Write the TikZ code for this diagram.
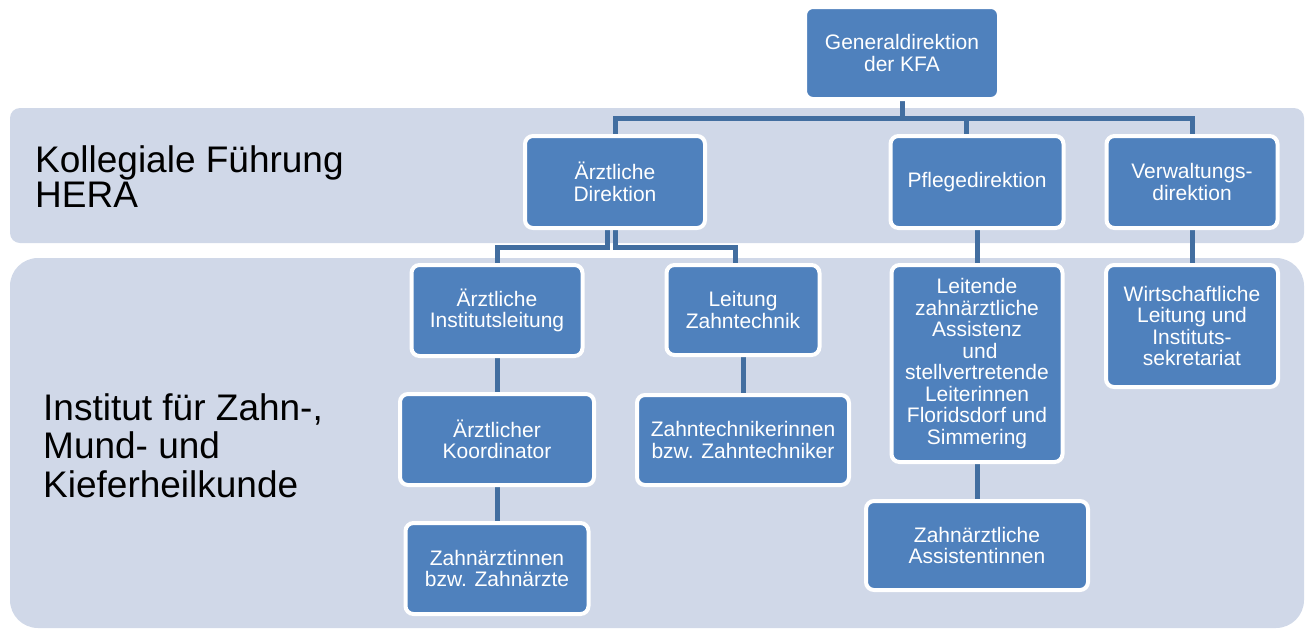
\documentclass[tikz,border=0pt]{standalone}
\usepackage{fontspec}
\setmainfont{Liberation Sans}
\usetikzlibrary{calc}
\pgfdeclarelayer{bands}
\pgfdeclarelayer{conns}
\pgfsetlayers{bands,conns,main}
\definecolor{bandfill}{RGB}{208,216,232}
\definecolor{boxfill}{RGB}{79,129,189}
\definecolor{connblue}{RGB}{66,110,160}
\tikzset{
  orgbox/.style={draw=white, line width=4pt, fill=boxfill, rounded corners=8pt,
    inner sep=0pt, align=center, text=white,
    font=\fontsize{21}{21.5}\selectfont},
  conn/.style={draw=connblue, line width=5pt},
  band/.style={fill=bandfill},
  biglabel/.style={anchor=base west, inner sep=0pt, align=left, text=black}
}
\begin{document}
\begin{tikzpicture}[x=1pt,y=-1pt]
\useasboundingbox (0,0) rectangle (1307,630);
% bands
\begin{pgfonlayer}{bands}
  \fill[band, rounded corners=10pt] (10,108) rectangle (1304,243);
  \fill[band, rounded corners=28pt] (10,258) rectangle (1304,628);
\end{pgfonlayer}
% labels (base anchor = baseline of last line)
\node[biglabel, font=\fontsize{37}{31}\selectfont] (lblhera) at (35,207) {Kollegiale Führung\\HERA};
\node[biglabel, font=\fontsize{37}{38.5}\selectfont] (lblinst) at (43,497) {Institut für Zahn-,\\Mund- und\\Kieferheilkunde};
% boxes
\node[orgbox, minimum width=194pt, minimum height=92pt] (gen) at (902,53) {Generaldirektion\\der KFA};
\node[orgbox, minimum width=180pt, minimum height=92pt] (ad) at (615,182) {Ärztliche\\Direktion};
\node[orgbox, minimum width=173pt, minimum height=92pt] (pd) at (977,182) {Pflegedirektion};
\node[orgbox, minimum width=171pt, minimum height=92pt] (vd) at (1192,182) {Verwaltungs-\\direktion};
\node[orgbox, minimum width=171pt, minimum height=91pt] (ail) at (497,310.5) {Ärztliche\\Institutsleitung};
\node[orgbox, minimum width=153pt, minimum height=90pt] (lz) at (743,310) {Leitung\\Zahntechnik};
\node[orgbox, minimum width=194pt, minimum height=91pt] (ak) at (497,439.5) {Ärztlicher\\Koordinator};
\node[orgbox, minimum width=212pt, minimum height=90pt] (zt) at (743,440) {Zahntechnikerinnen\\bzw. Zahntechniker};
\node[orgbox, minimum width=183pt, minimum height=91pt] (za) at (497,568.5) {Zahnärztinnen\\bzw. Zahnärzte};
\node[orgbox, minimum width=171pt, minimum height=197pt] (le) at (977,363.5) {Leitende\\zahnärztliche\\Assistenz\\\hspace*{6pt}und\\stellvertretende\\Leiterinnen\\Floridsdorf und\\Simmering};
\node[orgbox, minimum width=222pt, minimum height=89pt] (zass) at (977,545.5) {Zahnärztliche\\Assistentinnen};
\node[orgbox, minimum width=172pt, minimum height=122pt] (wl) at (1192,326) {Wirtschaftliche\\Leitung und\\Instituts-\\sekretariat};
% bus coordinates
\coordinate (busA) at (0,118);
\coordinate (busB) at (0,247.5);
% connectors
\begin{pgfonlayer}{conns}
  \draw[conn] (gen.south) -- (gen.south |- busA) -| (ad.north);
  \draw[conn] (gen.south |- busA) -| ($(pd.north)+(-11,0)$);
  \draw[conn] (gen.south |- busA) -| (vd.north);
  \draw[conn] ($(ad.south)+(-8,0)$) |- (ail.north |- busB) -- (ail.north);
  \draw[conn] (ad.south) |- ($(lz.north |- busB)+(-8,0)$) -- ($(lz.north)+(-8,0)$);
  \draw[conn] (ail.south) -- (ak.north);
  \draw[conn] (ak.south) -- (za.north);
  \draw[conn] (lz.south) -- (zt.north);
  \draw[conn] (pd.south) -- (le.north);
  \draw[conn] (le.south) -- (zass.north);
  \draw[conn] (vd.south) -- (wl.north);
\end{pgfonlayer}
\end{tikzpicture}
\end{document}
